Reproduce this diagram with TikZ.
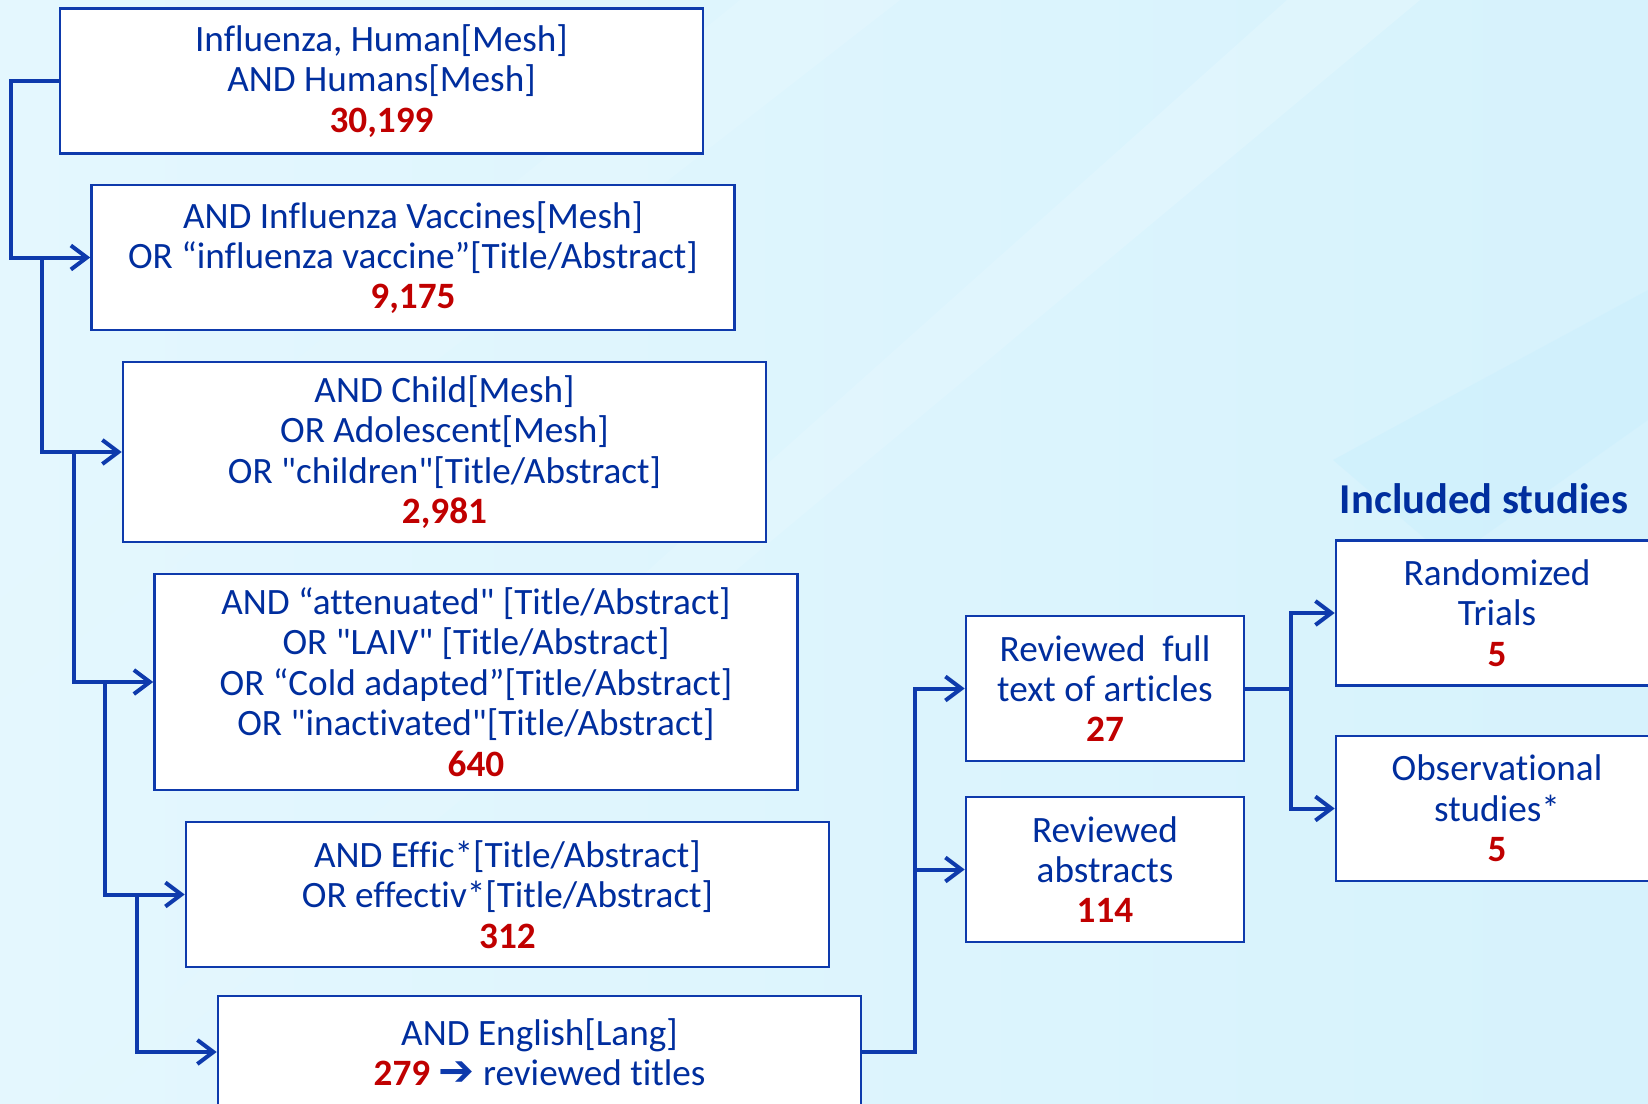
\documentclass[tikz,border=0pt]{standalone}
\usepackage{fontspec}
\setmainfont{Carlito}[Ligatures={NoCommon,TeXOff}]
\newfontfamily\symfont{DejaVu Sans}
\usetikzlibrary{arrows.meta}

\definecolor{lineblue}{RGB}{14,58,172}
\definecolor{textblue}{RGB}{0,46,158}
\definecolor{numred}{RGB}{192,0,0}
\definecolor{bgleft}{RGB}{228,247,254}
\definecolor{bgbase}{RGB}{214,242,252}
\definecolor{bglight}{RGB}{228,247,253}
\definecolor{bgdark}{RGB}{205,240,252}

\newcommand{\num}[1]{\textcolor{numred}{\textbf{#1}}}

\begin{document}
\begin{tikzpicture}[
    x=0.5pt, y=-0.5pt,
    font=\fontsize{18.6}{20.2}\selectfont,
    qbox/.style={draw=lineblue, line width=1.3pt, fill=white, text=textblue,
        minimum width=321.5pt, minimum height=72.5pt, align=center, inner sep=0pt},
    stagebox/.style={qbox, minimum width=139pt},
    incbox/.style={qbox, minimum width=161pt},
    title/.style={font=\fontsize{21.3}{24}\selectfont\bfseries, text=textblue},
    arr/.style={-{Straight Barb[length=8pt, width=12pt]}, line width=2pt, draw=lineblue},
]
    \useasboundingbox (0,0) rectangle (1648,1103);
    \clip (0,0) rectangle (1648,1103);

    % ============= Background =============
    \shade[left color=bgleft, right color=bgbase] (0,0) rectangle (1648,1103);
    \fill[bglight, opacity=0.6] (900,0) -- (740,0) -- (0,600) -- (0,700) -- cycle;
    \fill[bglight, opacity=0.6] (0,1149) -- (1287,0) -- (1420,0) -- (0,1184) -- cycle;
    \fill[bgdark, opacity=0.6] (1333,460) -- (1648,290) -- (1648,420) -- (1450,560) -- cycle;

    % ============= Search steps =============
    \node[qbox] (b1) at (381.5,81) {Influenza, Human[Mesh]\\AND Humans[Mesh]\\\num{30,199}};
    \node[qbox] (b2) at (413,257.5) {AND Influenza Vaccines[Mesh]\\OR “influenza vaccine”[Title/Abstract]\\\num{9,175}};
    \node[qbox, minimum height=90pt] (b3) at (444.5,452) {AND Child[Mesh]\\OR Adolescent[Mesh]\\OR "children"[Title/Abstract]\\\num{2,981}};
    \node[qbox, minimum height=108pt] (b4) at (476,682) {AND “attenuated" [Title/Abstract]\\OR "LAIV" [Title/Abstract]\\OR “Cold adapted”[Title/Abstract]\\OR "inactivated"[Title/Abstract]\\\num{640}};
    \node[qbox] (b5) at (507.5,894.5) {AND Effic*[Title/Abstract]\\OR effectiv*[Title/Abstract]\\\num{312}};
    \node[qbox, minimum height=56pt] (b6) at (539.5,1052) {AND English[Lang]\\\num{279} {\symfont\bfseries\fontsize{21.5}{20.2}\selectfont\textcolor{lineblue}{➔}} reviewed titles};

    \draw[arr] (b1.west) -- ++(-48,0) |- (b2.west);
    \draw[arr] (b2.west) ++(-48,0) |- (b3.west);
    \draw[arr] (b3.west) ++(-48,0) |- (b4.west);
    \draw[arr] (b4.west) ++(-48,0) |- (b5.west);
    \draw[arr] (b5.west) ++(-48,0) |- (b6.west);

    % ============= Review =============
    \node[stagebox] (full) at (1105,688.5) {Reviewed\ \ full\\text of articles\\\num{27}};
    \node[stagebox] (abs) at (1105,869.5) {Reviewed\\abstracts\\\num{114}};

    \coordinate (j6) at ([xshift=53*0.5pt]b6.east);
    \draw[arr] (b6.east) -- (j6) |- (full.west);
    \draw[arr] (j6) |- (abs.west);

    % ============= Included studies =============
    \node[title] (inc) at (1484,499) {Included studies};
    \node[incbox] (rct) at (1497,613) {Randomized\\Trials\\\num{5}};
    \node[incbox] (obs) at (1497,808.5) {Observational\\studies*\\\num{5}};

    \coordinate (j7) at ([xshift=46*0.5pt]full.east);
    \draw[arr] (full.east) -- (j7) |- (rct.west);
    \draw[arr] (j7) |- (obs.west);
\end{tikzpicture}
\end{document}
